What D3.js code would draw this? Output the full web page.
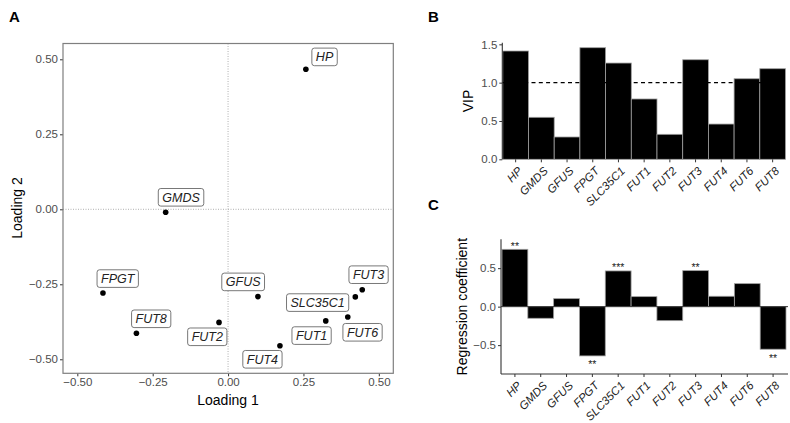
<!DOCTYPE html>
<html><head><meta charset="utf-8">
<script src="https://cdn.jsdelivr.net/npm/d3@7"></script>
<style>body{margin:0;background:#fff}svg{display:block;font-family:"Liberation Sans",Arial,sans-serif}</style>
</head><body><svg id="c" width="790" height="423"></svg>
<script>
// ---- Data ----
const genes = ["HP","GMDS","GFUS","FPGT","SLC35C1","FUT1","FUT2","FUT3","FUT4","FUT6","FUT8"];
const loading1 = [0.258,-0.207,0.099,-0.415,0.422,0.324,-0.030,0.445,0.172,0.397,-0.304];
const loading2 = [0.467,-0.010,-0.291,-0.279,-0.292,-0.372,-0.377,-0.268,-0.455,-0.359,-0.413];
const labelL1 = [0.320,-0.156,0.050,-0.366,0.297,0.277,-0.069,0.466,0.114,0.446,-0.255];
const labelL2 = [0.508,0.040,-0.242,-0.231,-0.311,-0.421,-0.425,-0.218,-0.500,-0.410,-0.365];
const vip = [1.413,0.548,0.291,1.456,1.256,0.787,0.326,1.299,0.460,1.051,1.182];
const coef = [0.745,-0.151,0.104,-0.640,0.464,0.130,-0.182,0.468,0.135,0.299,-0.553];
const signif = ["**","","","**","***","","","**","","","**"];
const loadTicks = [-0.50,-0.25,0,0.25,0.50];
const vipTicks = [0,0.5,1.0,1.5];
const coefTicks = [-0.5,0,0.5];
const vipThreshold = 1.0;

const svg = d3.select("#c");
const fmt2 = d => d3.format(".2f")(d).replace("-","\u2212");
const fmt1 = d => d3.format(".1f")(d).replace("-","\u2212");
const tickCol = "#4d4d4d";

// panel letters
[["A",9,22],["B",428,22],["C",428,210]].forEach(([t,x,y])=>{
  svg.append("text").attr("x",x).attr("y",y).attr("font-size",15).attr("font-weight","bold").text(t);
});

// ---- Panel A ----
const ax = d3.scaleLinear().domain([-0.5475,0.548]).range([63,393.3]);
const ay = d3.scaleLinear().domain([-0.5467,0.5527]).range([373.3,43.5]);
const gA = svg.append("g");
gA.append("line").attr("x1",ax(0)).attr("x2",ax(0)).attr("y1",ay.range()[1]).attr("y2",ay.range()[0])
  .attr("stroke","#9a9a9a").attr("stroke-width",0.8).attr("stroke-dasharray","1,1.5");
gA.append("line").attr("x1",ax.range()[0]).attr("x2",ax.range()[1]).attr("y1",ay(0)).attr("y2",ay(0))
  .attr("stroke","#9a9a9a").attr("stroke-width",0.8).attr("stroke-dasharray","1,1.5");
const xaA = gA.append("g").attr("transform","translate(0,373.3)")
  .call(d3.axisBottom(ax).tickValues(loadTicks).tickFormat(fmt2).tickSize(3).tickPadding(2));
const yaA = gA.append("g").attr("transform","translate(63,0)")
  .call(d3.axisLeft(ay).tickValues(loadTicks).tickFormat(fmt2).tickSize(3).tickPadding(2));
[xaA,yaA].forEach(a=>{
  a.select(".domain").remove();
  a.selectAll(".tick line").attr("stroke","#333");
  a.selectAll(".tick text").attr("fill",tickCol).attr("font-size",11.5).attr("font-family","Liberation Sans, Arial, sans-serif");
});
gA.append("rect").attr("x",63).attr("y",43.5).attr("width",330.3).attr("height",329.8)
  .attr("fill","none").attr("stroke","#7f7f7f").attr("stroke-width",1.2);
gA.selectAll("circle.pt").data(genes).join("circle").attr("class","pt")
  .attr("cx",(d,i)=>ax(loading1[i])).attr("cy",(d,i)=>ay(loading2[i])).attr("r",2.8).attr("fill","#000");
genes.forEach((g,i)=>{
  const lg = gA.append("g").attr("transform",`translate(${ax(labelL1[i])},${ay(labelL2[i])})`);
  const r = lg.append("rect");
  const t = lg.append("text").attr("text-anchor","middle").attr("dy","0.36em")
    .attr("font-size",12.5).attr("font-style","italic").attr("fill","#222").text(g);
  const w = t.node().getComputedTextLength()+8;
  r.attr("x",-w/2).attr("y",-8.8).attr("width",w).attr("height",17.6).attr("rx",2.5)
   .attr("fill","#fff").attr("stroke","#555").attr("stroke-width",0.8);
});
svg.append("text").attr("x",228).attr("y",405).attr("text-anchor","middle").attr("font-size",14).text("Loading 1");
svg.append("text").attr("transform","translate(22,208) rotate(-90)").attr("text-anchor","middle").attr("font-size",14).text("Loading 2");

// ---- Panel B ----
const bx = d3.scaleBand().domain(genes).range([502.8,785.5]).padding(0);
const by = d3.scaleLinear().domain([0,1.52]).range([159.3,42.8]);
const gB = svg.append("g");
gB.selectAll("rect.b").data(genes).join("rect").attr("class","b")
  .attr("x",d=>bx(d)).attr("width",bx.bandwidth())
  .attr("y",(d,i)=>by(vip[i])).attr("height",(d,i)=>by(0)-by(vip[i]))
  .attr("fill","#000").attr("stroke","#a0a0a0").attr("stroke-width",0.8);
gB.append("line").attr("x1",502.3).attr("x2",785.5).attr("y1",by(vipThreshold)).attr("y2",by(vipThreshold))
  .attr("stroke","#000").attr("stroke-width",1.1).attr("stroke-dasharray","4,3.3");
const yaB = gB.append("g").attr("transform","translate(502.3,0)")
  .call(d3.axisLeft(by).tickValues(vipTicks).tickFormat(fmt1).tickSize(3).tickPadding(2));
yaB.select(".domain").attr("stroke","#333").attr("stroke-width",1.1).attr("d","M0,42.8V159.3");
const xaB = gB.append("g").attr("transform","translate(0,159.3)")
  .call(d3.axisBottom(bx).tickSize(3).tickPadding(2));
xaB.select(".domain").remove();
[yaB,xaB].forEach(a=>{
  a.selectAll(".tick line").attr("stroke","#333");
  a.selectAll(".tick text").attr("fill",tickCol).attr("font-size",11.5).attr("font-family","Liberation Sans, Arial, sans-serif");
});
xaB.selectAll(".tick text").attr("fill","#222").attr("font-style","italic").attr("text-anchor","end")
  .attr("transform","translate(-2,3) rotate(-45)").attr("dy","0.71em");
svg.append("text").attr("transform","translate(473,101) rotate(-90)").attr("text-anchor","middle").attr("font-size",14).text("VIP");

// ---- Panel C ----
const cx = d3.scaleBand().domain(genes).range([502,786]).padding(0);
const cy = d3.scaleLinear().domain([-0.875,0.875]).range([374,239.3]);
const gC = svg.append("g");
gC.selectAll("rect.c").data(genes).join("rect").attr("class","c")
  .attr("x",d=>cx(d)).attr("width",cx.bandwidth())
  .attr("y",(d,i)=>cy(Math.max(0,coef[i]))).attr("height",(d,i)=>Math.abs(cy(coef[i])-cy(0)))
  .attr("fill","#000").attr("stroke","#a0a0a0").attr("stroke-width",0.8);
gC.append("line").attr("x1",501).attr("x2",788).attr("y1",cy(0)).attr("y2",cy(0))
  .attr("stroke","#333").attr("stroke-width",1);
gC.selectAll("text.sig").data(genes).join("text").attr("class","sig")
  .attr("x",d=>cx(d)+cx.bandwidth()/2)
  .attr("y",(d,i)=>coef[i]>=0 ? cy(coef[i])+0.5 : cy(coef[i])+12.5)
  .attr("text-anchor","middle").attr("font-size",10.5).attr("fill","#222")
  .text((d,i)=>signif[i]);
const yaC = gC.append("g").attr("transform","translate(501,0)")
  .call(d3.axisLeft(cy).tickValues(coefTicks).tickFormat(fmt1).tickSize(3).tickPadding(2));
yaC.select(".domain").attr("stroke","#333").attr("stroke-width",1.1).attr("d","M0,239.3V374");
const xaC = gC.append("g").attr("transform","translate(0,374)")
  .call(d3.axisBottom(cx).tickSize(3).tickPadding(2));
xaC.select(".domain").attr("stroke","#333").attr("stroke-width",1.1).attr("d","M501,0H788");
[yaC,xaC].forEach(a=>{
  a.selectAll(".tick line").attr("stroke","#333");
  a.selectAll(".tick text").attr("fill",tickCol).attr("font-size",11.5).attr("font-family","Liberation Sans, Arial, sans-serif");
});
xaC.selectAll(".tick text").attr("fill","#222").attr("font-style","italic").attr("text-anchor","end")
  .attr("transform","translate(-2,3) rotate(-45)").attr("dy","0.71em");
svg.append("text").attr("transform","translate(467,306.7) rotate(-90)").attr("text-anchor","middle").attr("font-size",14).text("Regression coefficient");
</script></body></html>
